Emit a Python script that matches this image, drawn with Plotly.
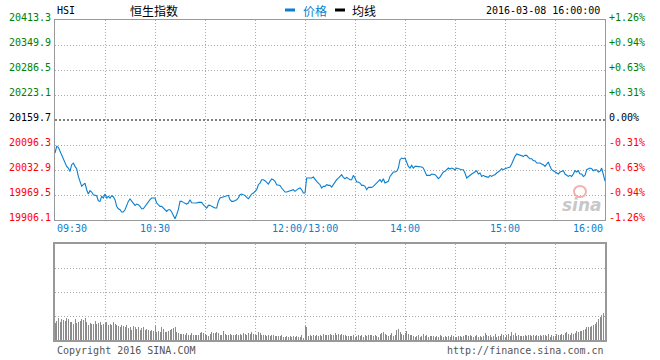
import plotly.graph_objects as go

# ---------------- data ----------------
prev_close = 20159.7
y_levels = [19906.1, 19969.5, 20032.9, 20096.3, 20159.7, 20223.1, 20286.5, 20349.9, 20413.3]
y_labels = ["19906.1", "19969.5", "20032.9", "20096.3", "20159.7", "20223.1", "20286.5", "20349.9", "20413.3"]
pct_labels = ["-1.26%", "-0.94%", "-0.63%", "-0.31%", "0.00%", "+0.31%", "+0.63%", "+0.94%", "+1.26%"]

x_tick_pos = [0, 60, 150, 210, 270, 330]
x_tick_text = ["09:30", "10:30", "12:00/13:00", "14:00", "15:00", "16:00"]
grid_x = [30, 60, 90, 120, 150, 180, 210, 240, 270, 300]

price = [
    20075.9, 20092.8, 20090.3, 20080.1, 20071.7, 20059.0, 20048.0, 20042.1, 20037.9, 20029.4,
    20046.3, 20050.5, 20042.1, 20036.2, 20016.7, 20004.1, 19991.4, 19995.6, 19999.8, 19982.9,
    19971.9, 19980.4, 19977.0, 19970.2, 19968.6, 19967.7, 19955.0, 19953.3, 19966.0, 19961.8,
    19971.9, 19961.8, 19966.0, 19961.8, 19967.7, 19965.2, 19957.6, 19940.7, 19934.7, 19932.2,
    19926.3, 19926.3, 19932.2, 19944.9, 19953.3, 19959.3, 19953.3, 19949.1, 19943.2, 19946.6,
    19944.9, 19940.7, 19934.7, 19934.7, 19940.7, 19944.9, 19953.3, 19957.6, 19961.8, 19961.8,
    19961.8, 19949.1, 19944.9, 19940.7, 19940.7, 19936.4, 19932.2, 19928.0, 19932.2, 19932.2,
    19926.3, 19919.5, 19909.4, 19919.5, 19932.2, 19953.3, 19953.3, 19950.8, 19949.1, 19946.6,
    19949.1, 19957.6, 19950.0, 19949.1, 19949.1, 19949.1, 19950.8, 19950.8, 19950.8, 19944.9,
    19940.7, 19936.4, 19943.2, 19943.2, 19940.7, 19938.1, 19936.4, 19936.4, 19953.3, 19961.8,
    19963.5, 19963.5, 19966.0, 19967.7, 19968.6, 19957.6, 19953.3, 19953.3, 19955.0, 19957.6,
    19961.8, 19970.2, 19971.9, 19970.2, 19968.6, 19963.5, 19960.1, 19966.0, 19971.9, 19974.5,
    19978.7, 19982.9, 19995.6, 19999.8, 20008.3, 20008.3, 20005.7, 20002.4, 19997.3, 20004.1,
    20010.0, 20008.3, 20004.1, 19995.6, 19995.6, 19993.9, 19987.2, 19980.4, 19977.0, 19977.0,
    19978.7, 19978.7, 19980.4, 19982.9, 19978.7, 19982.9, 19985.5, 19987.2, 19982.9, 19974.5,
    19974.5, 20012.5, 20012.5, 20012.5, 20012.5, 20015.0, 20008.3, 20004.1, 19999.8, 19995.6,
    19987.2, 19991.4, 19991.4, 19995.6, 19993.9, 19993.9, 19989.7, 19995.6, 20004.1, 20008.3,
    20012.5, 20016.7, 20021.0, 20014.2, 20010.8, 20014.2, 20010.8, 20008.3, 20008.3, 20019.3,
    20012.5, 20002.4, 20002.4, 19999.8, 19993.9, 19993.9, 19991.4, 19982.9, 19988.8, 19988.8,
    19988.8, 19991.4, 19995.6, 19997.3, 20001.5, 20008.3, 20002.4, 20010.8, 19999.8, 20001.5,
    20004.1, 20016.7, 20022.7, 20027.7, 20027.7, 20029.4, 20037.9, 20059.0, 20063.2, 20061.5,
    20063.2, 20053.1, 20042.1, 20037.9, 20044.6, 20037.9, 20042.1, 20042.1, 20042.1, 20040.4,
    20040.4, 20037.9, 20027.7, 20019.3, 20019.3, 20019.3, 20022.7, 20022.7, 20021.0, 20016.7,
    20010.8, 20015.0, 20021.0, 20027.7, 20029.4, 20033.6, 20037.9, 20035.3, 20037.9, 20036.2,
    20033.6, 20037.9, 20036.2, 20033.6, 20033.6, 20033.6, 20025.2, 20012.5, 20016.7, 20019.3,
    20022.7, 20025.2, 20027.7, 20031.1, 20022.7, 20025.2, 20016.7, 20019.3, 20016.7, 20015.0,
    20014.2, 20019.3, 20016.7, 20019.3, 20021.0, 20025.2, 20027.7, 20031.1, 20036.2, 20033.6,
    20036.2, 20037.9, 20037.9, 20040.4, 20048.0, 20059.0, 20067.5, 20073.4, 20071.7, 20070.0,
    20070.0, 20067.5, 20070.0, 20070.0, 20064.9, 20061.5, 20061.5, 20056.5, 20056.5, 20050.5,
    20050.5, 20050.5, 20048.0, 20046.3, 20042.1, 20048.0, 20053.1, 20042.1, 20033.6, 20031.1,
    20027.7, 20025.2, 20022.7, 20027.7, 20029.4, 20031.1, 20022.7, 20019.3, 20016.7, 20019.3,
    20016.7, 20022.7, 20031.1, 20027.7, 20031.1, 20022.7, 20022.7, 20016.7, 20019.3, 20033.6,
    20036.2, 20037.9, 20036.2, 20031.1, 20033.6, 20033.6, 20027.7, 20029.4, 20037.9, 20016.7,
    20005.0,
]

volume = [
    17, 19, 22, 18, 21, 20, 19, 22, 21, 18, 18,
    16, 21, 17, 18, 19, 21, 20, 22, 18, 15,
    17, 16, 16, 19, 16, 17, 18, 15, 16, 17,
    18, 15, 16, 15, 18, 16, 15, 14, 13, 15,
    14, 13, 15, 12, 13, 10, 14, 13, 11, 13,
    10, 12, 13, 10, 11, 10, 9, 10, 9, 14,
    8, 9, 8, 13, 11, 8, 8, 9, 10, 11,
    12, 13, 8, 7, 6, 6, 6, 5, 7, 5,
    5, 7, 5, 5, 5, 5, 7, 8, 7, 6,
    5, 4, 6, 8, 7, 7, 8, 7, 5, 5,
    9, 6, 5, 5, 6, 5, 5, 5, 6, 5,
    6, 5, 7, 6, 5, 7, 6, 8, 6, 5,
    5, 8, 7, 5, 5, 5, 4, 5, 4, 5,
    5, 4, 4, 4, 4, 5, 3, 3, 4, 3,
    4, 3, 4, 3, 4, 3, 3, 5, 2, 14,
    13, 4, 5, 4, 5, 4, 5, 4, 5, 4,
    6, 5, 5, 5, 6, 5, 5, 7, 5, 6,
    5, 6, 5, 5, 4, 4, 4, 4, 5, 3,
    4, 5, 4, 5, 3, 5, 4, 5, 5, 5,
    4, 5, 4, 3, 6, 7, 8, 6, 5, 4,
    5, 7, 4, 5, 10, 11, 8, 6, 5, 7,
    9, 6, 5, 5, 4, 3, 4, 5, 3, 4,
    6, 4, 5, 3, 4, 4, 4, 3, 4, 3,
    5, 4, 3, 4, 3, 4, 3, 5, 4, 3,
    3, 4, 4, 3, 4, 5, 5, 4, 5, 4,
    3, 4, 5, 3, 4, 3, 4, 7, 5, 4,
    5, 3, 4, 6, 3, 4, 4, 6, 5, 3,
    5, 6, 4, 8, 5, 7, 4, 5, 4, 4,
    4, 5, 4, 5, 5, 4, 5, 4, 5, 4,
    5, 4, 5, 5, 4, 6, 3, 5, 4, 4,
    6, 5, 5, 6, 5, 7, 8, 6, 5, 7,
    6, 7, 9, 8, 9, 9, 10, 11, 13, 13,
    13, 14, 15, 16, 18, 21, 23, 25, 27, 28,
]

minutes = list(range(len(price)))

# ---------------- styling ----------------
BLUE = "#0a7fd0"
GRID = "#aaaaaa"
BORDER = "#999999"
MONO = "DejaVu Sans Mono"
W, H = 660, 360
L = 55
R = W - 605
T = 20
B = H - 340
PW = W - L - R
PH = H - T - B


def py(px):
    """screen pixel row -> paper y"""
    return (H - B - px) / PH


def px_x(px):
    """screen pixel column -> paper x"""
    return (px - L) / PW


fig = go.Figure()
fig.add_trace(go.Scatter(x=minutes, y=price, mode="lines",
                         line=dict(color=BLUE, width=1.1),
                         xaxis="x", yaxis="y", hoverinfo="skip"))
fig.add_trace(go.Bar(x=minutes, y=volume, marker=dict(color="#8c8c8c", line=dict(width=0)),
                     width=0.6, xaxis="x2", yaxis="y2", hoverinfo="skip"))

main_dom = [py(220), 1.0]
vol_dom = [0.0, py(244)]
GD = "1px,2px"

fig.update_layout(
    width=W, height=H,
    margin=dict(l=L, r=R, t=T, b=B),
    paper_bgcolor="white", plot_bgcolor="white",
    showlegend=False,
    bargap=0,
    xaxis=dict(range=[0, 330], domain=[0, 1], anchor="y",
               tickvals=grid_x, showticklabels=False, ticks="",
               showgrid=True, gridcolor=GRID, griddash=GD, gridwidth=1,
               showline=True, linecolor=BORDER, linewidth=1, mirror=True,
               zeroline=False, fixedrange=True),
    yaxis=dict(range=[y_levels[0], y_levels[-1]], domain=main_dom, anchor="x",
               tickvals=[v for v in y_levels[1:-1] if v != prev_close],
               showticklabels=False, ticks="",
               showgrid=True, gridcolor=GRID, griddash=GD, gridwidth=1,
               showline=True, linecolor=BORDER, linewidth=1, mirror=True,
               zeroline=False, fixedrange=True),
    xaxis2=dict(range=[0, 330], domain=[0, 1], anchor="y2",
                tickvals=grid_x, showticklabels=False, ticks="",
                showgrid=True, gridcolor=GRID, griddash=GD, gridwidth=1,
                showline=True, linecolor=BORDER, linewidth=2, mirror=True,
                zeroline=False, fixedrange=True),
    yaxis2=dict(range=[0, 96], domain=vol_dom, anchor="x2",
                tickvals=[24, 48, 72], showticklabels=False, ticks="",
                showgrid=True, gridcolor=GRID, griddash=GD, gridwidth=1,
                showline=True, linecolor=BORDER, linewidth=2, mirror=True,
                zeroline=False, fixedrange=True),
)

# previous-close dashed line
fig.add_shape(type="line", xref="x", yref="y", x0=0, x1=330, y0=prev_close, y1=prev_close,
              line=dict(color="black", width=1, dash="2px,2px"))

ann = []
for v, lab, pl in zip(y_levels, y_labels, pct_labels):
    if v > prev_close:
        c = "#008000"
    elif v < prev_close:
        c = "#ff0000"
    else:
        c = "#000000"
    ann.append(dict(x=0, xref="paper", y=v, yref="y", text=lab, showarrow=False,
                    xanchor="right", yanchor="middle", xshift=-2, yshift=3,
                    font=dict(family=MONO, size=10, color=c)))
    ann.append(dict(x=1, xref="paper", y=v, yref="y", text=pl, showarrow=False,
                    xanchor="left", yanchor="middle", xshift=2, yshift=3,
                    font=dict(family=MONO, size=10, color=c)))

for pos, lab in zip(x_tick_pos, x_tick_text):
    xa = "left" if pos == 0 else ("right" if pos == 330 else "center")
    ann.append(dict(x=pos, xref="x", y=py(221), yref="paper", text=lab, showarrow=False,
                    xanchor=xa, yanchor="top",
                    font=dict(family=MONO, size=10, color=BLUE)))

# header
ann.append(dict(x=px_x(55), xref="paper", y=py(10), yref="paper", text="HSI", showarrow=False,
                xanchor="left", yanchor="middle", font=dict(family=MONO, size=10, color="black")))
ann.append(dict(x=px_x(154), xref="paper", y=py(10), yref="paper", text="恒生指数", showarrow=False,
                xanchor="center", yanchor="middle",
                font=dict(family="Noto Sans CJK SC", size=12, color="black")))
ann.append(dict(x=px_x(301), xref="paper", y=py(10), yref="paper", text="价格", showarrow=False,
                xanchor="left", yanchor="middle",
                font=dict(family="Noto Sans CJK SC", size=12, color=BLUE)))
ann.append(dict(x=px_x(350), xref="paper", y=py(10), yref="paper", text="均线", showarrow=False,
                xanchor="left", yanchor="middle",
                font=dict(family="Noto Sans CJK SC", size=12, color="black")))
ann.append(dict(x=px_x(602), xref="paper", y=py(10), yref="paper", text="2016-03-08 16:00:00",
                showarrow=False, xanchor="right", yanchor="middle",
                font=dict(family=MONO, size=10, color="black")))

# footer
ann.append(dict(x=px_x(55), xref="paper", y=py(350), yref="paper", text="Copyright 2016 SINA.COM",
                showarrow=False, xanchor="left", yanchor="middle",
                font=dict(family=MONO, size=10, color="#555555")))
ann.append(dict(x=px_x(606), xref="paper", y=py(350), yref="paper", text="http://finance.sina.com.cn",
                showarrow=False, xanchor="right", yanchor="middle",
                font=dict(family=MONO, size=10, color="#555555")))

# sina watermark
ann.append(dict(x=px_x(582), xref="paper", y=py(205), yref="paper", text="<b><i>sina</i></b>",
                showarrow=False, xanchor="center", yanchor="middle",
                font=dict(family="DejaVu Sans", size=17, color="#c8c8c8")))

fig.update_layout(annotations=ann)

# legend dashes
fig.add_shape(type="line", xref="paper", yref="paper", x0=px_x(285), x1=px_x(295),
              y0=py(10), y1=py(10), line=dict(color=BLUE, width=3))
fig.add_shape(type="line", xref="paper", yref="paper", x0=px_x(335), x1=px_x(345),
              y0=py(10), y1=py(10), line=dict(color="black", width=3))
# watermark eye
fig.add_shape(type="circle", xref="paper", yref="paper", x0=px_x(574), x1=px_x(586),
              y0=py(197), y1=py(186), line=dict(color="#f4b0b0", width=2), fillcolor="rgba(0,0,0,0)")

fig.write_html("out.html",
               config={"displayModeBar": False, "staticPlot": True},
               post_script="document.body.style.margin='0px';document.body.style.overflow='hidden';")
